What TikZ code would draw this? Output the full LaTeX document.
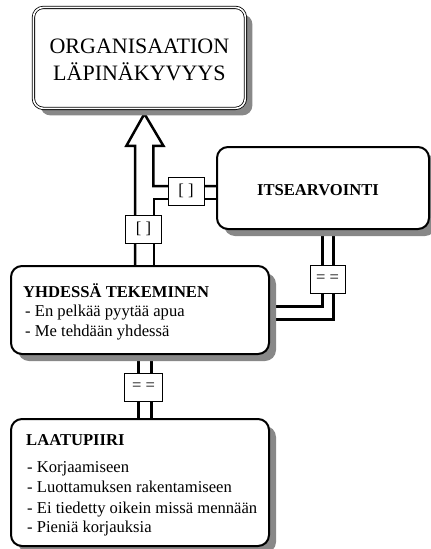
\documentclass[tikz,border=0pt]{standalone}
\usepackage{fontspec}
\setmainfont{Liberation Serif}
\usetikzlibrary{calc,shadows}
\pgfdeclarelayer{bg}
\pgfsetlayers{bg,main}
\definecolor{shade}{HTML}{888888}
\tikzset{
  box/.style={draw=black, line width=2pt, fill=white, rounded corners=11pt,
    anchor=north west, inner sep=0pt,
    drop shadow={shadow xshift=7pt, shadow yshift=-7pt, fill=shade, opacity=1}},
  topbox/.style={box, line width=0.8pt, double=white, double distance=1.6pt,
    rounded corners=10pt},
  tag/.style={draw=black, line width=0.8pt, fill=white, inner sep=0pt,
    minimum height=28pt, font=\fontsize{16.6}{19}\selectfont},
  txt/.style={anchor=base west, inner sep=0pt, font=\fontsize{16.6}{19}\selectfont},
  ttl/.style={txt, font=\fontsize{16.6}{19}\selectfont\bfseries},
  wire/.style={line width=3pt, miter limit=10},
  hollow/.style={line width=2.5pt, miter limit=10, line join=miter},
}
\begin{document}
\begin{tikzpicture}[x=1pt,y=-1pt]
\useasboundingbox (0,0) rectangle (431,549);

% boxes
\node[topbox, minimum width=212pt, minimum height=101pt] (top) at (33,7) {};
\node[align=center, font=\fontsize{22}{27}\selectfont, inner sep=0pt] (toptxt)
  at ($(top.center)+(0,2)$) {ORGANISAATION\\LÄPINÄKYVYYS};

\node[box, minimum width=212pt, minimum height=82pt] (itse) at (216,146) {};
\node[font=\fontsize{16.6}{19}\selectfont\bfseries, inner sep=0pt] (itsetxt)
  at ($(itse.center)+(-5,2)$) {ITSEARVOINTI};

\node[box, minimum width=258pt, minimum height=88pt] (yhd) at (10,265) {};
\node[ttl] (yhd1) at (23,297) {YHDESSÄ TEKEMINEN};
\node[txt] (yhd2) at (25,316) {- En pelkää pyytää apua};
\node[txt] (yhd3) at (25,336) {- Me tehdään yhdessä};

\node[box, minimum width=258pt, minimum height=127pt] (laatu) at (10,418) {};
\node[ttl] (laatu1) at (26,445) {LAATUPIIRI};
\node[txt] (laatu2) at (27,472) {- Korjaamiseen};
\node[txt] (laatu3) at (27,492) {- Luottamuksen rakentamiseen};
\node[txt] (laatu4) at (27,513) {- Ei tiedetty oikein missä mennään};
\node[txt] (laatu5) at (27,532) {- Pieniä korjauksia};

% tags on the connectors
\node[tag, minimum width=36pt] (tag1) at (186,191) {[ ]};
\node[tag, minimum width=36pt] (tag2) at (143.5,229) {[ ]};
\node[tag, minimum width=35pt] (tag3) at (327.5,279) {= =};
\node[tag, minimum width=38pt] (tag4) at (143.5,387) {= =};

\begin{pgfonlayer}{bg}
  % hollow arrow from YHDESSÄ TEKEMINEN up to the top box, with its branch
  \coordinate (tip) at ($(top.south)+(5,5)$);
  \draw[hollow]
    ($(yhd.north)+(-5,0)$) |- ($(tip)+(-10,32)$) -- ($(tip)+(-18,32)$)
    -- (tip) -- ($(tip)+(19,32)$) -- ($(tip)+(9,32)$)
    |- ($(itse.west)+(0,-2)$);
  \draw[hollow]
    ($(itse.west)+(0,11)$) -| ($(yhd.north)+(14,0)$);
  % ITSEARVOINTI down to YHDESSÄ TEKEMINEN
  \draw[wire] ($(itse.south)+(-1,0)$) |- ($(yhd.east)+(0,-4)$);
  \draw[wire] ($(itse.south)+(10,0)$) |- ($(yhd.east)+(0,9)$);
  % LAATUPIIRI up to YHDESSÄ TEKEMINEN
  \draw[wire] ($(laatu.north)+(-2,0)$) -- ($(yhd.south)+(-2,0)$);
  \draw[wire] ($(laatu.north)+(11,0)$) -- ($(yhd.south)+(11,0)$);
\end{pgfonlayer}
\end{tikzpicture}
\end{document}
